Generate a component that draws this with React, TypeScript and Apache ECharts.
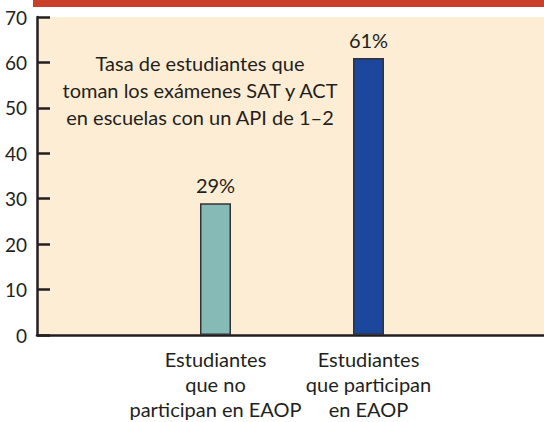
import React, { useEffect, useRef } from "react";
import * as echarts from "echarts";

const categories = [
  "Estudiantes\nque no\nparticipan en EAOP",
  "Estudiantes\nque participan\nen EAOP",
];
const values = [29, 61];
const barColors = ["#86bab6", "#1b479c"];
const yTicks = { min: 0, max: 70, interval: 10 };
const annotation = "Tasa de estudiantes que\ntoman los exámenes SAT y ACT\nen escuelas con un API de 1–2";

const FONT = "Lato";
const INK = "#231f20";

export default function App() {
  const ref = useRef<HTMLDivElement>(null);
  useEffect(() => {
    if (!ref.current) return;
    const chart = echarts.init(ref.current, undefined, { renderer: "svg" });
    chart.setOption({
      animation: false,
      backgroundColor: "#ffffff",
      textStyle: { fontFamily: FONT },
      grid: [
        { left: 37, right: 0, top: 17, bottom: 87, show: true, backgroundColor: "#fdedd4", borderWidth: 0, containLabel: false, outerBoundsMode: "none" },
        { left: 139, right: 99, top: 17, bottom: 87, show: false, containLabel: false, outerBoundsMode: "none" },
      ],
      xAxis: [
        {
          gridIndex: 0,
          type: "value",
          min: 0,
          max: 1,
          axisLine: { show: true, lineStyle: { color: INK, width: 2.5 } },
          axisTick: { show: false },
          axisLabel: { show: false },
          splitLine: { show: false },
        },
        {
          gridIndex: 1,
          type: "category",
          data: categories,
          axisLine: { show: false },
          axisTick: { show: false },
          axisLabel: {
            color: INK,
            fontFamily: FONT,
            fontSize: 20,
            lineHeight: 25,
            margin: 11,
            interval: 0,
          },
        },
      ],
      yAxis: [
        {
          gridIndex: 0,
          type: "value",
          min: yTicks.min,
          max: yTicks.max,
          interval: yTicks.interval,
          axisLine: { show: true, lineStyle: { color: INK, width: 2.5 } },
          axisTick: { show: true, inside: true, length: 13, lineStyle: { color: INK, width: 2.5 } },
          axisLabel: { color: INK, fontFamily: FONT, fontSize: 19, margin: 10 },
          splitLine: { show: false },
        },
        {
          gridIndex: 1,
          type: "value",
          min: yTicks.min,
          max: yTicks.max,
          interval: yTicks.interval,
          show: false,
        },
      ],
      series: [
        {
          type: "bar",
          xAxisIndex: 1,
          yAxisIndex: 1,
          barWidth: 31,
          data: values.map((v, i) => ({
            value: v,
            itemStyle: { color: barColors[i], borderColor: "#333333", borderWidth: 1.5 },
          })),
          label: {
            show: true,
            position: "top",
            distance: 8,
            formatter: "{c}%",
            color: INK,
            fontFamily: FONT,
            fontSize: 20,
          },
        },
      ],
      graphic: [
        { type: "rect", left: 33, top: 0, shape: { width: 511, height: 7 }, style: { fill: "#c93f2c" } },
        {
          type: "text",
          x: 200,
          y: 90,
          style: {
            text: annotation,
            fill: INK,
            font: `20px ${FONT}`,
            lineHeight: 27,
            textAlign: "center",
            textVerticalAlign: "middle",
          },
        },
      ],
    });
    return () => chart.dispose();
  }, []);
  return <div ref={ref} style={{ width: 544, height: 422, position: "absolute", left: 0, top: 0 }} />;
}
